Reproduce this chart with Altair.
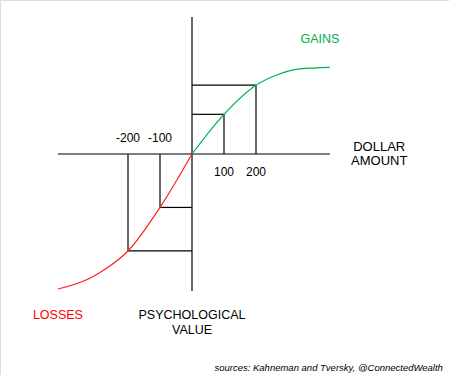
import altair as alt
import pandas as pd

# Value function (x: dollars, y: psychological value, arbitrary units)
gain_x = [0, 100, 200, 265, 337, 431]
gain_y = [0, 124, 215, 247, 266, 271]
loss_x = [0, -100, -200, -267, -319, -419]
loss_y = [0, -167, -303, -357, -388, -422]

# guide points (dollar amount, value)
guide_x = [100, 200, -100, -200]
guide_y = [124, 215, -167, -303]

tick_labels = ["-200", "-100", "100", "200"]
tick_values = [-200, -100, 100, 200]

X_DOMAIN = [-600, 803.125]
Y_DOMAIN = [-690.625, 481.25]

xs = alt.Scale(domain=X_DOMAIN, nice=False, zero=False)
ys = alt.Scale(domain=Y_DOMAIN, nice=False, zero=False)

# axes lines
axes_df = pd.DataFrame({
    "x": [-419, 0], "x2": [431, 0],
    "y": [0, 428], "y2": [0, -428],
})

rows = []
for gx, gy in zip(guide_x, guide_y):
    rows.append({"x": gx, "x2": gx, "y": 0, "y2": gy})
    rows.append({"x": 0, "x2": gx, "y": gy, "y2": gy})
guides_df = pd.DataFrame(rows)

gains_df = pd.DataFrame({"x": gain_x, "y": gain_y})
losses_df = pd.DataFrame({"x": loss_x, "y": loss_y})

ticks_df = pd.DataFrame({
    "x": tick_values,
    "y": [50 if v < 0 else -56 for v in tick_values],
    "label": tick_labels,
})

ann_df = pd.DataFrame({
    "x": [400, 585, 585, -419, 0, 0],
    "y": [358, 22, -21, -503, -503, -550],
    "label": ["GAINS", "DOLLAR", "AMOUNT", "LOSSES", "PSYCHOLOGICAL", "VALUE"],
    "color": ["#00b050", "#000000", "#000000", "#ff0000", "#000000", "#000000"],
    "size": [12.5, 13, 13, 12.5, 12.5, 12.5],
})

src_df = pd.DataFrame({"x": [784], "y": [-668],
                       "label": ["sources: Kahneman and Tversky, @ConnectedWealth"]})

noax = None

def X(f="x"):
    return alt.X(f"{f}:Q", scale=xs, axis=None)

def Y(f="y"):
    return alt.Y(f"{f}:Q", scale=ys, axis=None)

axes = alt.Chart(axes_df).mark_rule(color="black", strokeWidth=1.2).encode(
    x=X(), x2="x2:Q", y=Y(), y2="y2:Q")

guides = alt.Chart(guides_df).mark_rule(color="black", strokeWidth=1.2).encode(
    x=X(), x2="x2:Q", y=Y(), y2="y2:Q")

gains = alt.Chart(gains_df).mark_line(color="#00b050", strokeWidth=1.2,
                                      interpolate="monotone").encode(
    x=X(), y=Y(), order="x:Q")

losses = alt.Chart(losses_df).mark_line(color="#ff2020", strokeWidth=1.2,
                                        interpolate="monotone").encode(
    x=X(), y=Y(), order="x:Q")

ticks = alt.Chart(ticks_df).mark_text(font="Liberation Sans", fontSize=12,
                                      color="black", baseline="middle",
                                      align="center").encode(
    x=X(), y=Y(), text="label:N")

ann = alt.Chart(ann_df).mark_text(font="Liberation Sans", baseline="middle",
                                  align="center").encode(
    x=X(), y=Y(), text="label:N",
    color=alt.Color("color:N", scale=None),
    size=alt.Size("size:Q", scale=None))

src = alt.Chart(src_df).mark_text(font="Liberation Sans", fontSize=9.5,
                                  fontStyle="italic", color="black",
                                  baseline="middle", align="right").encode(
    x=X(), y=Y(), text="label:N")

chart = alt.layer(axes, guides, gains, losses, ticks, ann, src).properties(
    width=449, height=375, padding=0,
    autosize=alt.AutoSizeParams(type="none"),
).configure_view(stroke=None).configure(background="white")

chart.save("out.html", embed_options={"renderer": "svg", "actions": False})
